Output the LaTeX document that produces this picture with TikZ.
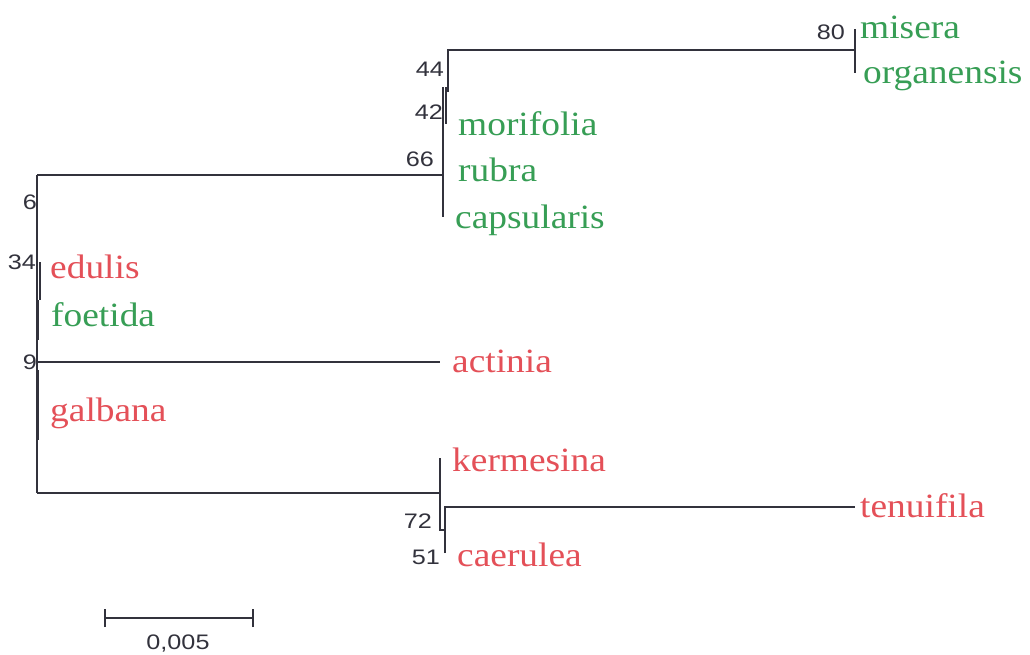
\documentclass[tikz,border=0pt]{standalone}
\usepackage{fontspec}
\newfontfamily\labfont[FakeStretch=1.1]{Liberation Serif}
\newfontfamily\numfont[FakeStretch=1.2]{Liberation Sans}
\definecolor{tgreen}{RGB}{55,158,85}
\definecolor{tred}{RGB}{228,80,88}
\definecolor{tline}{RGB}{50,50,60}
\begin{document}
\begin{tikzpicture}[x=1pt,y=-1pt,
  branch/.style={draw=tline, line width=1.3pt},
  taxon/.style={font=\labfont\fontsize{34}{34}\selectfont, inner sep=0pt, anchor=base west},
  gtaxon/.style={taxon, text=tgreen},
  rtaxon/.style={taxon, text=tred},
  boot/.style={font=\numfont\fontsize{21}{21}\selectfont, text=tline, inner sep=0pt, anchor=base east}]
\useasboundingbox (0,0) rectangle (1030,654);
\fill[white] (0,0) rectangle (1030,654);
% tree coordinates
\coordinate (rt) at (37,175);
\coordinate (rb) at (37,493);
\coordinate (a9) at (40,362);
\coordinate (a34t) at (40,262);
\coordinate (c66) at (443,175);
\coordinate (c66t) at (443,87);
\coordinate (c66b) at (443,217);
\coordinate (c42t) at (446,87);
\coordinate (c42b) at (446,124);
\coordinate (c44t) at (448,50);
\coordinate (c44b) at (448,92);
\coordinate (m80) at (855,50);
\coordinate (m80t) at (855,29);
\coordinate (m80b) at (855,73);
\coordinate (act) at (440,362);
\coordinate (c72) at (440,493);
\coordinate (c72t) at (440,458);
\coordinate (c72b) at (440,530);
\coordinate (c51b2) at (445,530);
\coordinate (c51t) at (445,507);
\coordinate (c51b) at (445,553);
\coordinate (ten) at (855,507);
\coordinate (s1) at (105,618);
\coordinate (s2) at (253,618);
% branches
\draw[branch] (rt) -- (rb);
\draw[branch] (a34t) -- (40,300) (38,300) -- (38,340) (a9) |- (40,362);
\draw[branch] (37,362) -- (act);
\draw[branch] (38,370) -- (38,440);
\draw[branch] (rt) -- (c66);
\draw[branch] (c66t) -- (c66b);
\draw[branch] (c42t) -- (c42b);
\draw[branch] (c44b) -- (c44t) -- (m80);
\draw[branch] (m80t) -- (m80b);
\draw[branch] (rb) -- (c72);
\draw[branch] (c72t) -- (c72b) -- (c51b2);
\draw[branch] (c51b) -- (c51t) -- (ten);
% scale bar
\draw[branch] (s1) -- (s2);
\draw[branch] ([yshift=-9pt]s1) -- ([yshift=9pt]s1);
\draw[branch] ([yshift=-9pt]s2) -- ([yshift=9pt]s2);
\node[font=\numfont\fontsize{21}{21}\selectfont, text=tline, inner sep=0pt, anchor=base] (scl) at (178,649) {0,005};
% taxa
\node[gtaxon] (misera) at (860,38) {misera};
\node[gtaxon] (organensis) at (863,83) {organensis};
\node[gtaxon] (morifolia) at (458,135) {morifolia};
\node[gtaxon] (rubra) at (458,181) {rubra};
\node[gtaxon] (capsularis) at (455,228) {capsularis};
\node[rtaxon] (edulis) at (50,278) {edulis};
\node[gtaxon] (foetida) at (51,326) {foetida};
\node[rtaxon] (actinia) at (452,372) {actinia};
\node[rtaxon] (galbana) at (50,421) {galbana};
\node[rtaxon] (kermesina) at (452,471) {kermesina};
\node[rtaxon] (tenuifila) at (860,517) {tenuifila};
\node[rtaxon] (caerulea) at (457,566) {caerulea};
% bootstrap values
\node[boot] (b80) at (845,39) {80};
\node[boot] (b44) at (444,76) {44};
\node[boot] (b42) at (443,119) {42};
\node[boot] (b66) at (434,166) {66};
\node[boot] (b6) at (37,209) {6};
\node[boot] (b34) at (36,269) {34};
\node[boot] (b9) at (37,369) {9};
\node[boot] (b72) at (432,528) {72};
\node[boot] (b51) at (440,564) {51};
\end{tikzpicture}
\end{document}
